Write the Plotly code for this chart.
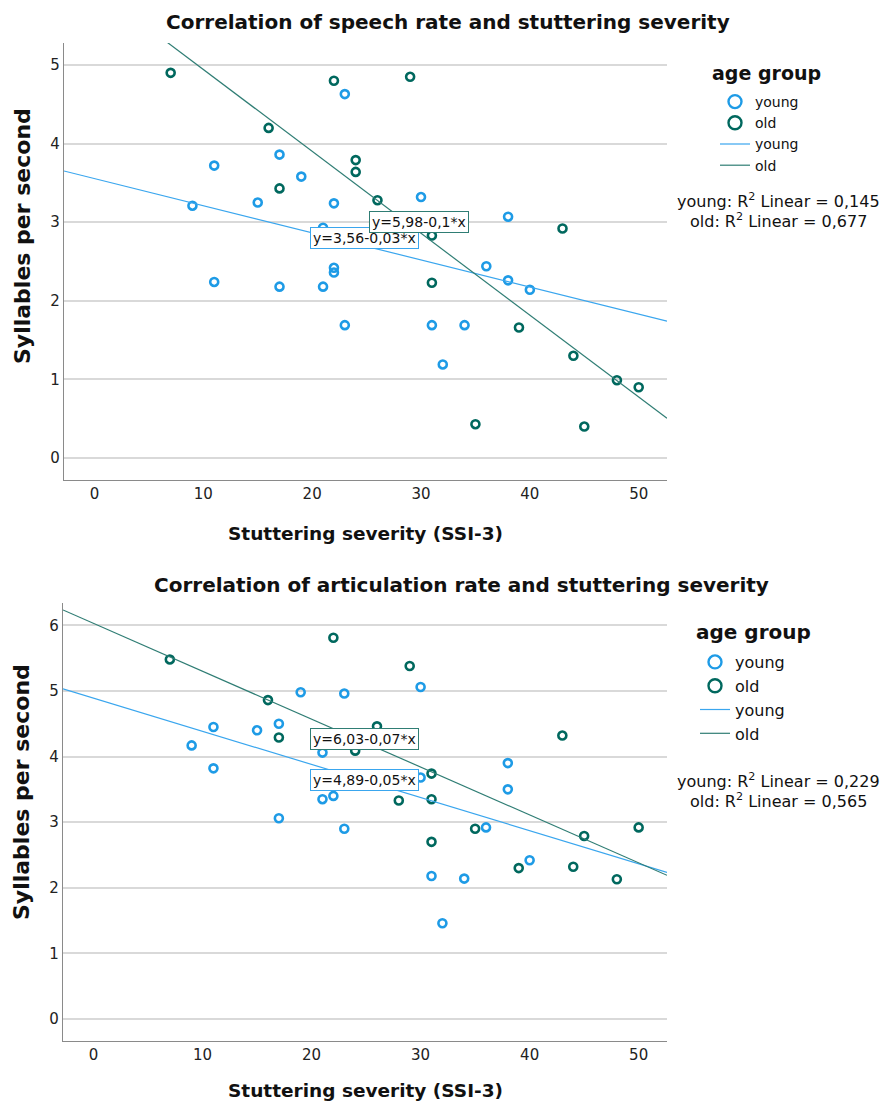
import numpy as np
import plotly.graph_objects as go

# ---------------- data ----------------
# Top chart: speech rate (syllables per second) vs stuttering severity (SSI-3)
sr_young_x = [23, 17, 11, 19, 9, 15, 22, 21, 22, 22, 11, 17, 21, 23, 30, 38, 36, 38, 40, 31, 34, 32]
sr_young_y = [4.63, 3.86, 3.72, 3.58, 3.21, 3.25, 3.24, 2.93, 2.42, 2.36, 2.24, 2.18, 2.18, 1.69,
              3.32, 3.07, 2.44, 2.26, 2.14, 1.69, 1.69, 1.19]
sr_old_x = [7, 22, 16, 24, 24, 17, 29, 26, 43, 31, 31, 39, 44, 48, 50, 35, 45]
sr_old_y = [4.90, 4.80, 4.20, 3.79, 3.64, 3.43, 4.85, 3.28, 2.92, 2.83, 2.23, 1.66, 1.30, 0.99,
            0.90, 0.43, 0.40]

# Bottom chart: articulation rate vs stuttering severity
ar_young_x = [19, 23, 11, 15, 17, 9, 21, 11, 21, 22, 17, 23, 30, 38, 30, 38, 36, 40, 31, 34, 32]
ar_young_y = [4.98, 4.96, 4.45, 4.40, 4.50, 4.17, 4.06, 3.82, 3.35, 3.40, 3.06, 2.90, 5.06, 3.90,
              3.68, 3.50, 2.92, 2.42, 2.18, 2.14, 1.46]
ar_old_x = [7, 22, 16, 17, 24, 29, 26, 43, 31, 28, 31, 35, 45, 50, 31, 39, 44, 48]
ar_old_y = [5.48, 5.81, 4.86, 4.29, 4.09, 5.38, 4.46, 4.32, 3.74, 3.33, 3.35, 2.90, 2.79, 2.92,
            2.70, 2.30, 2.32, 2.13]

# regression lines (intercept, slope) and labels
sr_fit_young = (3.555, -0.0345)
sr_fit_old = (5.985, -0.1042)
ar_fit_young = (4.89, -0.0505)
ar_fit_old = (6.03, -0.0730)
sr_eq_young, sr_eq_old = "y=3,56-0,03*x", "y=5,98-0,1*x"
ar_eq_young, ar_eq_old = "y=4,89-0,05*x", "y=6,03-0,07*x"
sr_r2 = ("0,145", "0,677")
ar_r2 = ("0,229", "0,565")
groups = ["young", "old"]

x_ticks = [0, 10, 20, 30, 40, 50]
sr_y_ticks = [0, 1, 2, 3, 4, 5]
ar_y_ticks = [0, 1, 2, 3, 4, 5, 6]

# ---------------- styles ----------------
W, H = 886, 1106
FONT = "DejaVu Sans"
C_YOUNG = "#1e9be6"
C_OLD = "#00685e"
C_YOUNG_LINE = "#3aa6ee"
C_OLD_LINE = "#2f7d74"
X_RANGE = [-2.8, 52.6]


def px(v):
    return v / W


def py(v):
    return 1 - v / H


fig = go.Figure()


def add_panel(xs_y, ys_y, xs_o, ys_o, fit_y, fit_o, xa, ya, legend):
    # data markers
    for xs, ys, c in ((xs_y, ys_y, C_YOUNG), (xs_o, ys_o, C_OLD)):
        fig.add_trace(go.Scatter(x=xs, y=ys, mode="markers", showlegend=False,
                                 marker=dict(symbol="circle-open", size=8, color=c,
                                             line=dict(width=2.6, color=c)),
                                 xaxis=xa, yaxis=ya))
    # fit lines
    lx = np.array(X_RANGE)
    for fit, c in ((fit_y, C_YOUNG_LINE), (fit_o, C_OLD_LINE)):
        fig.add_trace(go.Scatter(x=lx, y=fit[0] + fit[1] * lx, mode="lines", showlegend=False,
                                 line=dict(color=c, width=1.2), xaxis=xa, yaxis=ya))
    # legend entries (bigger markers, thin lines)
    for g, c in zip(groups, (C_YOUNG, C_OLD)):
        fig.add_trace(go.Scatter(x=[None], y=[None], mode="markers", name=g,
                                 marker=dict(symbol="circle-open", size=13, color=c,
                                             line=dict(width=2.4, color=c)),
                                 xaxis=xa, yaxis=ya, legend=legend))
    for g, c in zip(groups, (C_YOUNG_LINE, C_OLD_LINE)):
        fig.add_trace(go.Scatter(x=[None], y=[None], mode="lines", name=g,
                                 line=dict(color=c, width=1.2),
                                 xaxis=xa, yaxis=ya, legend=legend))


add_panel(sr_young_x, sr_young_y, sr_old_x, sr_old_y, sr_fit_young, sr_fit_old, "x", "y", "legend")
add_panel(ar_young_x, ar_young_y, ar_old_x, ar_old_y, ar_fit_young, ar_fit_old, "x2", "y2", "legend2")

axis_common = dict(showline=True, linecolor="#8a8a8a", linewidth=1.2, ticks="",
                   zeroline=False, tickfont=dict(family=FONT, size=15, color="#222"),
                   mirror=False, fixedrange=True)

fig.update_layout(
    width=W, height=H,
    margin=dict(l=0, r=0, t=0, b=0),
    paper_bgcolor="white", plot_bgcolor="white",
    font=dict(family=FONT, color="#111"),
    xaxis=dict(domain=[px(64), px(667)], range=X_RANGE, tickvals=x_ticks, showgrid=False,
               anchor="y", **axis_common),
    yaxis=dict(domain=[py(480), py(43)], range=[-0.28, 5.28], tickvals=sr_y_ticks,
               showgrid=True, gridcolor="#d9d9d9", gridwidth=1.6, anchor="x", **axis_common),
    xaxis2=dict(domain=[px(63), px(667)], range=X_RANGE, tickvals=x_ticks, showgrid=False,
                anchor="y2", **axis_common),
    yaxis2=dict(domain=[py(1041), py(603)], range=[-0.335, 6.34], tickvals=ar_y_ticks,
                showgrid=True, gridcolor="#d9d9d9", gridwidth=1.6, anchor="x2", **axis_common),
    legend=dict(x=px(715), y=py(86), xanchor="left", yanchor="top",
                font=dict(family=FONT, size=14, color="#111"),
                itemsizing="trace", itemwidth=30, tracegroupgap=0,
                bgcolor="rgba(0,0,0,0)"),
    legend2=dict(x=px(695), y=py(645), xanchor="left", yanchor="top",
                 font=dict(family=FONT, size=16, color="#111"),
                 itemsizing="trace", itemwidth=30, tracegroupgap=0,
                 bgcolor="rgba(0,0,0,0)"),
    showlegend=True,
)

ann = []
C = dict(xref="paper", yref="paper", showarrow=False, xanchor="center", yanchor="middle")
# titles
ann.append(dict(text="<b>Correlation of speech rate and stuttering severity</b>",
                x=px(448), y=py(22), font=dict(family=FONT, size=20, color="#111"), **C))
ann.append(dict(text="<b>Correlation of articulation rate and stuttering severity</b>",
                x=px(461), y=py(585), font=dict(family=FONT, size=20, color="#111"), **C))
# legend titles
ann.append(dict(text="<b>age group</b>", x=px(766), y=py(73),
                font=dict(family=FONT, size=19, color="#111"), **C))
ann.append(dict(text="<b>age group</b>", x=px(753), y=py(632),
                font=dict(family=FONT, size=20, color="#111"), **C))
# axis titles
for yy in (533, 1090):
    ann.append(dict(text="<b>Stuttering severity (SSI-3)</b>", x=px(365), y=py(yy),
                    font=dict(family=FONT, size=18.5, color="#111"), **C))
for yy in (236, 792):
    ann.append(dict(text="<b>Syllables per second</b>", x=px(22), y=py(yy), textangle=-90,
                    font=dict(family=FONT, size=22, color="#111"), **C))
# equation labels
eq_style = dict(showarrow=False, bgcolor="white", borderwidth=1, borderpad=2,
                xanchor="center", yanchor="middle",
                font=dict(family=FONT, size=14, color="#111"))
ann.append(dict(text=sr_eq_young, x=24.85, y=2.80, xref="x", yref="y",
                bordercolor=C_YOUNG_LINE, **eq_style))
ann.append(dict(text=sr_eq_old, x=29.85, y=3.00, xref="x", yref="y",
                bordercolor=C_OLD_LINE, **eq_style))
ann.append(dict(text=ar_eq_old, x=24.85, y=4.26, xref="x2", yref="y2",
                bordercolor=C_OLD_LINE, **eq_style))
ann.append(dict(text=ar_eq_young, x=24.85, y=3.64, xref="x2", yref="y2",
                bordercolor=C_YOUNG_LINE, **eq_style))
# R^2 texts
for (r2, y0) in ((sr_r2, 200), (ar_r2, 780)):
    ann.append(dict(text=f"young: R<sup>2</sup> Linear = {r2[0]}", x=px(778), y=py(y0),
                    font=dict(family=FONT, size=16, color="#111"), **C))
    ann.append(dict(text=f"old: R<sup>2</sup> Linear = {r2[1]}", x=px(778), y=py(y0 + 20),
                    font=dict(family=FONT, size=16, color="#111"), **C))

fig.update_layout(annotations=ann)
fig.write_html("out.html")
